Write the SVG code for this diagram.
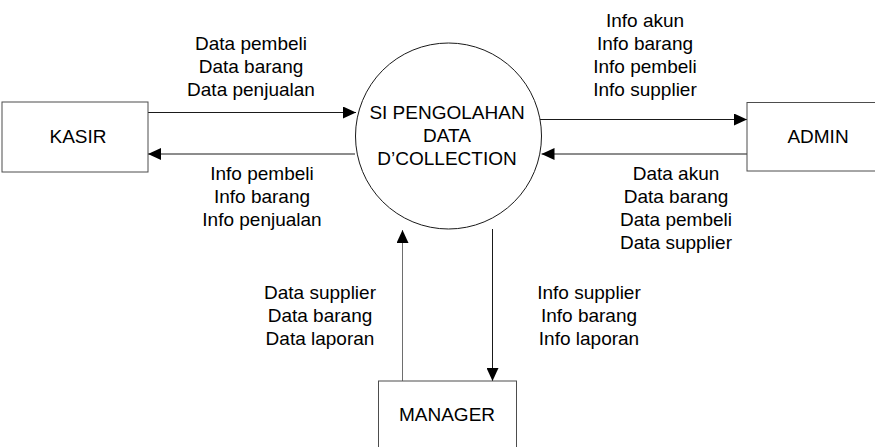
<svg xmlns="http://www.w3.org/2000/svg" width="875" height="447" viewBox="0 0 875 447">
  <style>
    .box { fill: #ffffff; stroke: #4d4d4d; stroke-width: 1; }
    .proc { fill: #ffffff; stroke: #1a1a1a; stroke-width: 1; }
    .flow { fill: none; stroke: #1a1a1a; stroke-width: 1; marker-end: url(#arrow); }
    .flow.soft { stroke: #6e6e6e; }
    text { font-family: "Liberation Sans", Arial, sans-serif; font-size: 19px; fill: #000000; text-anchor: middle; }
  </style>
  <defs>
    <marker id="arrow" markerUnits="userSpaceOnUse" markerWidth="13" markerHeight="12" refX="13" refY="6" orient="auto">
      <path d="M0,0 L13,6 L0,12 Z" fill="#000000"/>
    </marker>
  </defs>
  <rect width="875" height="447" fill="#ffffff"/>

  <!-- data flows -->
  <g id="connectors">
    <path class="flow" d="M148,112.5 H356"/>
    <path class="flow" d="M355,154 H148"/>
    <path class="flow" d="M540,119.5 H747"/>
    <path class="flow" d="M747,154 H541.5"/>
    <path class="flow soft" d="M402.5,381 V230"/>
    <path class="flow" d="M492.5,229 V381"/>
    <g id="flow-labels">
      <text x="251" y="50">Data pembeli</text>
      <text x="251" y="73">Data barang</text>
      <text x="251" y="96">Data penjualan</text>
      <text x="262" y="180">Info pembeli</text>
      <text x="262" y="203">Info barang</text>
      <text x="262" y="226">Info penjualan</text>
      <text x="645" y="27">Info akun</text>
      <text x="645" y="50">Info barang</text>
      <text x="645" y="73">Info pembeli</text>
      <text x="645" y="96">Info supplier</text>
      <text x="676" y="180">Data akun</text>
      <text x="676" y="203">Data barang</text>
      <text x="676" y="226">Data pembeli</text>
      <text x="676" y="249">Data supplier</text>
      <text x="320" y="299">Data supplier</text>
      <text x="320" y="322">Data barang</text>
      <text x="320" y="345">Data laporan</text>
      <text x="589" y="299">Info supplier</text>
      <text x="589" y="322">Info barang</text>
      <text x="589" y="345">Info laporan</text>
    </g>
  </g>

  <!-- process -->
  <g id="process">
    <circle class="proc" cx="448.5" cy="136" r="93"/>
    <text x="447" y="119">SI PENGOLAHAN</text>
    <text x="447" y="142">DATA</text>
    <text x="447" y="165">D’COLLECTION</text>
  </g>

  <!-- external entities -->
  <g id="kasir">
    <rect class="box" x="2" y="102" width="146" height="70"/>
    <text x="78" y="143">KASIR</text>
  </g>
  <g id="admin">
    <rect class="box" x="747" y="102.5" width="142" height="68.5"/>
    <text x="818" y="143">ADMIN</text>
  </g>
  <g id="manager">
    <rect class="box" x="378.5" y="381" width="138" height="80"/>
    <text x="447" y="421">MANAGER</text>
  </g>
</svg>
